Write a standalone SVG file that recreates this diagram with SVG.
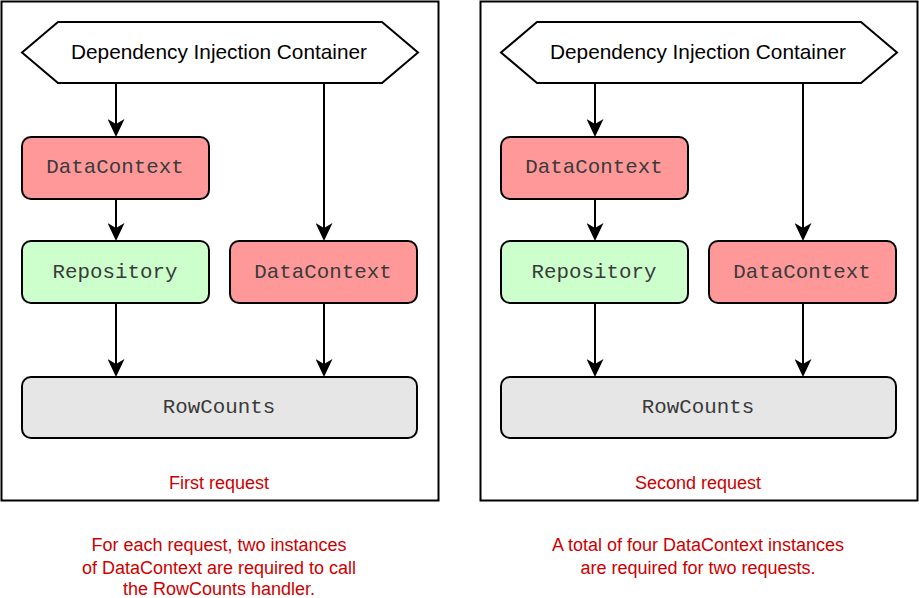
<svg xmlns="http://www.w3.org/2000/svg" width="919" height="598" viewBox="0 0 919 598">
<style>
.frame{fill:#fff;stroke:#000;stroke-width:2}
.hex{fill:#fff;stroke:#000;stroke-width:2}
.box{stroke:#000;stroke-width:2}
.dc{fill:#FF9999}
.repo{fill:#CCFFCC}
.rc{fill:#E6E6E6}
.sans{font-family:"Liberation Sans",Arial,sans-serif;font-size:20.8px;fill:#000;text-anchor:middle}
.mono{font-family:"Liberation Mono","Courier New",monospace;font-size:20.8px;fill:#3a3a3a;text-anchor:middle}
.note{font-family:"Liberation Sans",Arial,sans-serif;font-size:18px;fill:#CC0000;text-anchor:middle}
.edge{fill:none;stroke:#000;stroke-width:2}
</style>
<defs>
<marker id="arrow" viewBox="0 0 18 17" markerWidth="18" markerHeight="17" refX="5" refY="8.5" orient="auto" markerUnits="userSpaceOnUse">
<path d="M0,0 L18,8.5 L0,17 L5,8.5 Z" fill="#000"/>
</marker>
</defs>
<rect width="919" height="598" fill="#fff"/>

<g id="frame-first">
<rect class="frame" x="1.5" y="1.5" width="437" height="499"/>
<text class="note" x="219" y="489">First request</text>
</g>
<g id="frame-second">
<rect class="frame" x="480.5" y="1.5" width="437" height="499"/>
<text class="note" x="698" y="489">Second request</text>
</g>

<g id="connectors">
<path class="edge" d="M116,83 V124" marker-end="url(#arrow)"/>
<path class="edge" d="M324,83 V228" marker-end="url(#arrow)"/>
<path class="edge" d="M116,199 V228" marker-end="url(#arrow)"/>
<path class="edge" d="M116,303 V364" marker-end="url(#arrow)"/>
<path class="edge" d="M324,303 V364" marker-end="url(#arrow)"/>
<path class="edge" d="M595,83 V124" marker-end="url(#arrow)"/>
<path class="edge" d="M803,83 V228" marker-end="url(#arrow)"/>
<path class="edge" d="M595,199 V228" marker-end="url(#arrow)"/>
<path class="edge" d="M595,303 V364" marker-end="url(#arrow)"/>
<path class="edge" d="M803,303 V364" marker-end="url(#arrow)"/>
</g>

<g id="di-container-1">
<path class="hex" d="M22,52.5 L58,22 L382,22 L418,52.5 L382,83 L58,83 Z"/>
<text class="sans" x="219" y="59">Dependency Injection Container</text>
</g>
<g id="datacontext-1a">
<rect class="box dc" x="22" y="137" width="187" height="62" rx="9"/>
<text class="mono" x="115" y="173">DataContext</text>
</g>
<g id="repository-1">
<rect class="box repo" x="22" y="241" width="187" height="62" rx="9"/>
<text class="mono" x="115" y="277.5">Repository</text>
</g>
<g id="datacontext-1b">
<rect class="box dc" x="230" y="241" width="187" height="62" rx="9"/>
<text class="mono" x="323" y="277.5">DataContext</text>
</g>
<g id="rowcounts-1">
<rect class="box rc" x="22" y="377" width="395" height="61" rx="9"/>
<text class="mono" x="219" y="413">RowCounts</text>
</g>

<g id="di-container-2">
<path class="hex" d="M501,52.5 L537,22 L861,22 L897,52.5 L861,83 L537,83 Z"/>
<text class="sans" x="698" y="59">Dependency Injection Container</text>
</g>
<g id="datacontext-2a">
<rect class="box dc" x="501" y="137" width="187" height="62" rx="9"/>
<text class="mono" x="594" y="173">DataContext</text>
</g>
<g id="repository-2">
<rect class="box repo" x="501" y="241" width="187" height="62" rx="9"/>
<text class="mono" x="594" y="277.5">Repository</text>
</g>
<g id="datacontext-2b">
<rect class="box dc" x="709" y="241" width="187" height="62" rx="9"/>
<text class="mono" x="802" y="277.5">DataContext</text>
</g>
<g id="rowcounts-2">
<rect class="box rc" x="501" y="377" width="395" height="61" rx="9"/>
<text class="mono" x="698" y="413">RowCounts</text>
</g>

<g id="note-left">
<text class="note" x="219" y="551">For each request, two instances</text>
<text class="note" x="219" y="573.5">of DataContext are required to call</text>
<text class="note" x="219" y="595">the RowCounts handler.</text>
</g>
<g id="note-right">
<text class="note" x="698" y="551">A total of four DataContext instances</text>
<text class="note" x="698" y="573.5">are required for two requests.</text>
</g>
</svg>
